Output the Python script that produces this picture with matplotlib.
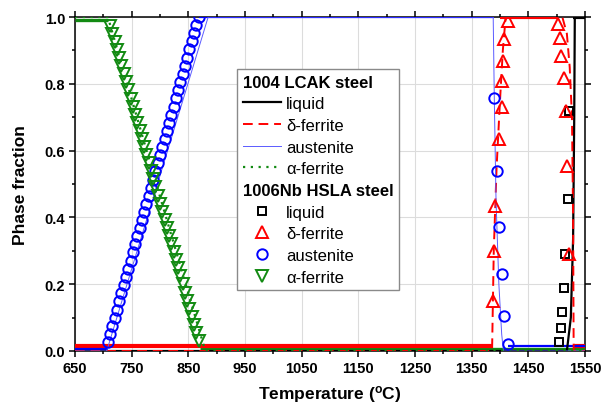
import matplotlib
matplotlib.use('Agg')
import matplotlib.pyplot as plt
from matplotlib.lines import Line2D
from matplotlib.ticker import MultipleLocator

plt.rcParams['font.family'] = ['Liberation Sans', 'DejaVu Sans']
plt.rcParams['mathtext.default'] = 'regular'

# 1004 LCAK steel, calculated curves (temperature in C, phase fraction)
lcak_liquid_t = [650, 1518, 1525, 1529, 1531, 1532, 1550]
lcak_liquid_f = [0.0, 0.0, 0.10, 0.335, 0.70, 1.0, 1.0]

lcak_delta_t = [650, 1386, 1389, 1394, 1400, 1405, 1410, 1510, 1518, 1523, 1527, 1529, 1530, 1550]
lcak_delta_f = [0.0, 0.0, 0.30, 0.55, 0.75, 0.90, 1.0, 1.0, 0.95, 0.85, 0.70, 0.40, 0.0, 0.0]

lcak_aust_t = [650, 706, 885, 1388, 1390, 1393, 1398, 1403, 1406, 1550]
lcak_aust_f = [0.0, 0.0, 1.0, 1.0, 0.75, 0.45, 0.20, 0.05, 0.0, 0.0]

lcak_alpha_t = [650, 708, 790, 880, 1550]
lcak_alpha_f = [1.0, 1.0, 0.52, 0.0, 0.0]

# 1006Nb HSLA steel, measured points
hsla_liquid_t = [1504, 1507, 1509, 1513, 1515, 1520, 1521]
hsla_liquid_f = [0.027, 0.069, 0.117, 0.19, 0.29, 0.455, 0.72]

hsla_delta_t = [1388, 1389, 1392, 1399, 1403, 1404, 1406, 1407, 1414,
                1502, 1506, 1508, 1513, 1516, 1518, 1522]
hsla_delta_f = [0.15, 0.30, 0.434, 0.635, 0.73, 0.808, 0.868, 0.934, 0.988,
                0.98, 0.937, 0.883, 0.817, 0.72, 0.554, 0.29]

hsla_aust_t = [708, 712, 716, 720, 724, 728, 732, 736, 740, 744, 748, 752, 756, 760,
               764, 768, 772, 776, 780, 784, 788, 792, 796, 800, 804, 808, 812, 816,
               820, 824, 828, 832, 836, 840, 844, 848, 852, 856, 860, 864, 868,
               1389, 1394, 1399, 1404, 1407, 1414]
hsla_aust_f = [0.027, 0.051, 0.076, 0.100, 0.124, 0.149, 0.173, 0.197, 0.222, 0.246,
               0.270, 0.295, 0.319, 0.343, 0.367, 0.392, 0.416, 0.440, 0.465, 0.489,
               0.513, 0.538, 0.562, 0.586, 0.611, 0.635, 0.659, 0.684, 0.708, 0.732,
               0.757, 0.781, 0.805, 0.830, 0.854, 0.878, 0.903, 0.927, 0.951, 0.976, 1.0,
               0.757, 0.54, 0.37, 0.23, 0.105, 0.02]

hsla_alpha_t = [712, 716, 720, 724, 728, 732, 736, 740, 744, 748, 752, 756, 760, 764,
                768, 772, 776, 780, 784, 788, 792, 796, 800, 804, 808, 812, 816, 820,
                824, 828, 832, 836, 840, 844, 848, 852, 856, 860, 864, 868]
hsla_alpha_f = [0.973, 0.949, 0.925, 0.900, 0.876, 0.852, 0.828, 0.804, 0.780, 0.755,
                0.731, 0.707, 0.683, 0.659, 0.635, 0.610, 0.586, 0.562, 0.538, 0.514,
                0.490, 0.465, 0.441, 0.417, 0.393, 0.369, 0.345, 0.320, 0.296, 0.272,
                0.248, 0.224, 0.200, 0.175, 0.151, 0.127, 0.103, 0.079, 0.055, 0.030]

# flat stretches where the HSLA points merge into bands: (start, end, fraction)
hsla_liquid_bands = [(1528, 1550, 1.0)]
hsla_delta_bands = [(650, 1387, 0.015), (1400, 1503, 1.0), (1530, 1550, 0.015)]
hsla_aust_bands = [(650, 708, 0.006), (868, 1389, 1.0), (1414, 1550, 0.015)]
hsla_alpha_bands = [(650, 708, 0.99), (870, 1550, 0.005)]

x_ticks = [650, 750, 850, 950, 1050, 1150, 1250, 1350, 1450, 1550]
y_ticks = [0.0, 0.2, 0.4, 0.6, 0.8, 1.0]

BLACK = 'black'
RED = '#ff0000'
BLUE = '#0000ff'
GREEN = '#128a12'
PALE_BLUE = '#5b5bff'


def draw_bands(ax, bands, color, lw):
    for start, end, level in bands:
        ax.plot([start, end], [level, level], color=color, lw=lw, solid_capstyle='butt', zorder=3)


fig = plt.figure(figsize=(6.08, 4.10), dpi=100)
ax = fig.add_axes([75 / 608, 1 - 352 / 410, 510 / 608, 334 / 410])

ax.grid(True, color='#dcdcdc', lw=0.8, zorder=0)

# bands first so the markers sit on top
draw_bands(ax, hsla_alpha_bands, GREEN, 2.4)
draw_bands(ax, hsla_delta_bands, RED, 3.0)
draw_bands(ax, hsla_aust_bands, BLUE, 1.6)
draw_bands(ax, hsla_liquid_bands, BLACK, 3.0)

ax.plot(lcak_liquid_t, lcak_liquid_f, color=BLACK, lw=1.6, zorder=4)
ax.plot(lcak_delta_t, lcak_delta_f, color=RED, lw=1.4, dashes=(5, 3), zorder=4)
ax.plot(lcak_aust_t, lcak_aust_f, color=PALE_BLUE, lw=0.7, zorder=4)
ax.plot(lcak_alpha_t, lcak_alpha_f, color=GREEN, lw=1.6, linestyle=(0, (1, 2.5)), zorder=4)

mk = dict(linestyle='none', markerfacecolor='none', markeredgewidth=1.4)
ax.plot(hsla_liquid_t, hsla_liquid_f, marker='s', ms=6, color=BLACK, zorder=5, **mk)
ax.plot(hsla_delta_t, hsla_delta_f, marker='^', ms=8, color=RED, zorder=5, **mk)
ax.plot(hsla_aust_t, hsla_aust_f, marker='o', ms=7.5, color=BLUE, zorder=5, **mk)
ax.plot(hsla_alpha_t, hsla_alpha_f, marker='v', ms=8, color=GREEN, zorder=5, **mk)

ax.set_xlim(650, 1550)
ax.set_ylim(0, 1)
ax.set_xticks(x_ticks)
ax.set_yticks(y_ticks)
ax.set_yticklabels([f'{v:.1f}' for v in y_ticks])
ax.xaxis.set_minor_locator(MultipleLocator(50))
ax.yaxis.set_minor_locator(MultipleLocator(0.1))
ax.tick_params(which='both', direction='out', top=True, right=True, width=1.1)
ax.tick_params(which='major', length=4, labelsize=10.5, pad=3)
ax.tick_params(which='minor', length=2.5)
for lbl in ax.get_xticklabels() + ax.get_yticklabels():
    lbl.set_fontweight('bold')
for sp in ax.spines.values():
    sp.set_linewidth(1.1)

ax.set_xlabel(r'Temperature ($^{o}$C)', fontsize=12.5, fontweight='bold', labelpad=6)
ax.set_ylabel('Phase fraction', fontsize=12.5, fontweight='bold', labelpad=12)

blank = Line2D([], [], linestyle='none')
handles = [
    blank,
    Line2D([], [], color=BLACK, lw=1.6),
    Line2D([], [], color=RED, lw=1.4, dashes=(5, 3)),
    Line2D([], [], color=PALE_BLUE, lw=0.7),
    Line2D([], [], color=GREEN, lw=1.6, linestyle=(0, (1, 2.5))),
    blank,
    Line2D([], [], marker='s', ms=6, color=BLACK, **mk),
    Line2D([], [], marker='^', ms=8, color=RED, **mk),
    Line2D([], [], marker='o', ms=7.5, color=BLUE, **mk),
    Line2D([], [], marker='v', ms=8, color=GREEN, **mk),
]
labels = ['1004 LCAK steel', 'liquid', 'δ-ferrite', 'austenite', 'α-ferrite',
          '1006Nb HSLA steel', 'liquid', 'δ-ferrite', 'austenite', 'α-ferrite']
headers = ['1004 LCAK steel', '1006Nb HSLA steel']

leg = ax.legend(handles, labels, loc='upper left', bbox_to_anchor=(0.318, 0.845),
                fontsize=12, handlelength=2.3, handletextpad=0.3, labelspacing=0.4,
                borderpad=0.35, borderaxespad=0, fancybox=False, framealpha=1,
                edgecolor='#8a8a8a')
leg.get_frame().set_linewidth(1.0)
leg.set_zorder(10)

# header rows: no handle, bold text starting at the handle column
for vpack in leg._legend_handle_box.get_children():
    for hpack in vpack.get_children():
        area, txt = hpack.get_children()
        if txt.get_children()[0].get_text() in headers:
            area.set_width(0)
            hpack.sep = 0
            txt.get_children()[0].set_fontweight('bold')

fig.savefig('out.png', dpi=100)
